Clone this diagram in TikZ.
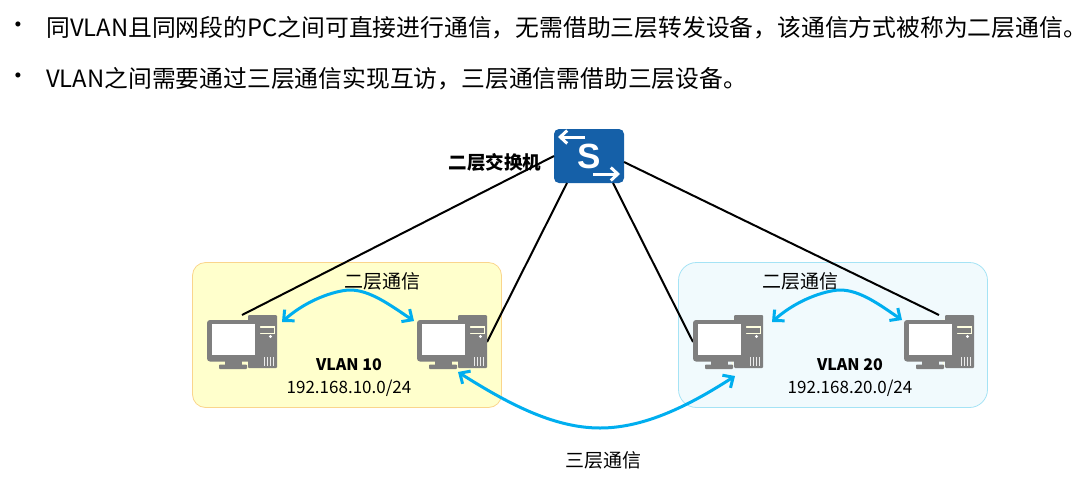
\documentclass[tikz,border=0pt]{standalone}
\usepackage{fontspec}
\setmainfont{Noto Sans CJK SC}
\newfontfamily\swfont{Liberation Sans}
\usetikzlibrary{arrows.meta}
\definecolor{swblue}{HTML}{1560A8}
\definecolor{arcblue}{HTML}{00AEEF}
\definecolor{pcgray}{HTML}{7F7F7F}
\definecolor{yellowbg}{HTML}{FFFFCC}
\definecolor{yellowln}{HTML}{FAD58C}
\definecolor{bluebg}{HTML}{F1FAFD}
\definecolor{blueln}{HTML}{A5E3F5}
\tikzset{
  bullettext/.style={anchor=west,inner sep=0pt,font=\fontsize{23.8}{26}\selectfont},
  lbl/.style={inner sep=0pt,font=\fontsize{19}{22}\selectfont},
  vlanname/.style={inner sep=0pt,font=\fontsize{16}{18}\selectfont\bfseries},
  subnet/.style={inner sep=0pt,font=\fontsize{17}{19}\selectfont},
  zone/.style={draw,rounded corners=13pt,line width=0.8pt},
  link/.style={draw=black,line width=2pt},
  arc/.style={draw=arcblue,line width=3pt,{Straight Barb[length=8pt,width=15pt,line width=3pt]}-{Straight Barb[length=8pt,width=15pt,line width=3pt]}},
  pcbox/.style={minimum width=70pt,minimum height=54pt,inner sep=0pt,outer sep=0pt},
  pics/pcicon/.style={code={
    \fill[pcgray,rounded corners=1pt] (41,0) rectangle (70,53);
    \fill[yellowbg!60!white] (44,11) rectangle (68,19);
    \fill[pcgray] (45,12.5) rectangle (67,17.5);
    \fill[white] (63.5,21.5) circle (1.7);
    \foreach \xx in {57,60,63,66} \fill[white!85!pcgray] (\xx,42) rectangle +(1.3,9);
    \draw[yellowbg!60!white,line width=1pt,rounded corners=3pt] (39,4) -- (39,49) -- (40,52);
    \fill[pcgray,rounded corners=3pt] (0,5) rectangle (53,46.5);
    \fill[white] (5,9) rectangle (48,40);
    \fill[pcgray] (18,46) rectangle (35,50);
    \fill[pcgray,rounded corners=0.8pt] (12,49.5) rectangle (40,54);
  }}
}
\begin{document}
\begin{tikzpicture}[x=1pt,y=-1pt]
\useasboundingbox (0,0) rectangle (1087,480);
\node[bullettext] (b1) at (6,28) {•};
\node[bullettext] (t1) at (46,28) {同VLAN且同网段的PC之间可直接进行通信，无需借助三层转发设备，该通信方式被称为二层通信。};
\node[bullettext] (b2) at (6,79) {•};
\node[bullettext] (t2) at (46,79) {VLAN之间需要通过三层通信实现互访，三层通信需借助三层设备。};
\draw[zone,draw=yellowln,fill=yellowbg] (192.5,262.5) rectangle (501.5,407.5);
\draw[zone,draw=blueln,fill=bluebg,rounded corners=18pt] (678.5,262.5) rectangle (987.5,407.5);
\node[pcbox] (pc1) at (242,342) {};
\node[pcbox] (pc2) at (452,342) {};
\node[pcbox] (pc3) at (728,342) {};
\node[pcbox] (pc4) at (939,342) {};
\node[minimum width=70pt,minimum height=54pt,inner sep=0pt,outer sep=0pt,fill=swblue,rounded corners=5pt] (sw) at (589,156) {};
\draw[link] (pc1.north) -- (sw.west);
\draw[link] (pc2.east) -- ([xshift=-22pt]sw.south);
\draw[link] (pc3.west) -- ([xshift=24pt]sw.south);
\draw[link] (pc4.north) -- ([yshift=-6pt]sw.east);
\pic at (207,315) {pcicon};
\pic at (417,315) {pcicon};
\pic at (693,315) {pcicon};
\pic at (904,315) {pcicon};
\node[inner sep=0pt,text=white,font=\swfont\fontsize{35}{35}\selectfont\bfseries] (s) at (589,156) {S};
\draw[white,line width=3pt,-{Straight Barb[length=7pt,width=13pt,line width=3pt]}] (585,137) -- (558,137);
\draw[white,line width=3pt,-{Straight Barb[length=7pt,width=13pt,line width=3pt]}] (593,174) -- (620,174);
\node[inner sep=0pt,font=\fontsize{18.5}{22}\selectfont\bfseries] (swl) at (495,162) {二层交换机};
\node[lbl] (l1) at (382.5,281) {二层通信};
\node[lbl] (l2) at (800,281) {二层通信};
\node[lbl] (l3) at (603,460) {三层通信};
\node[vlanname] (v1) at (349,365) {VLAN 10};
\node[subnet] (n1) at (349,388) {192.168.10.0/24};
\node[vlanname] (v2) at (850,365) {VLAN 20};
\node[subnet] (n2) at (850,388) {192.168.20.0/24};
\draw[arc] ([shift={(5pt,20pt)}]pc1.east) .. controls (310,297) and (340,290) .. (350,290) .. controls (370,290) and (390,305) .. ([shift={(-3pt,21pt)}]pc2.west);
\draw[arc] ([shift={(9pt,20pt)}]pc3.east) .. controls (800,297) and (830,290) .. (840,290) .. controls (860,290) and (880,305) .. ([shift={(-2pt,22pt)}]pc4.west);
\draw[arc] ([shift={(41pt,-30pt)}]pc2.west) .. controls (510,405) and (555,428) .. (600,428) .. controls (645,428) and (690,405) .. ([shift={(42pt,-34pt)}]pc3.west);
\end{tikzpicture}
\end{document}
